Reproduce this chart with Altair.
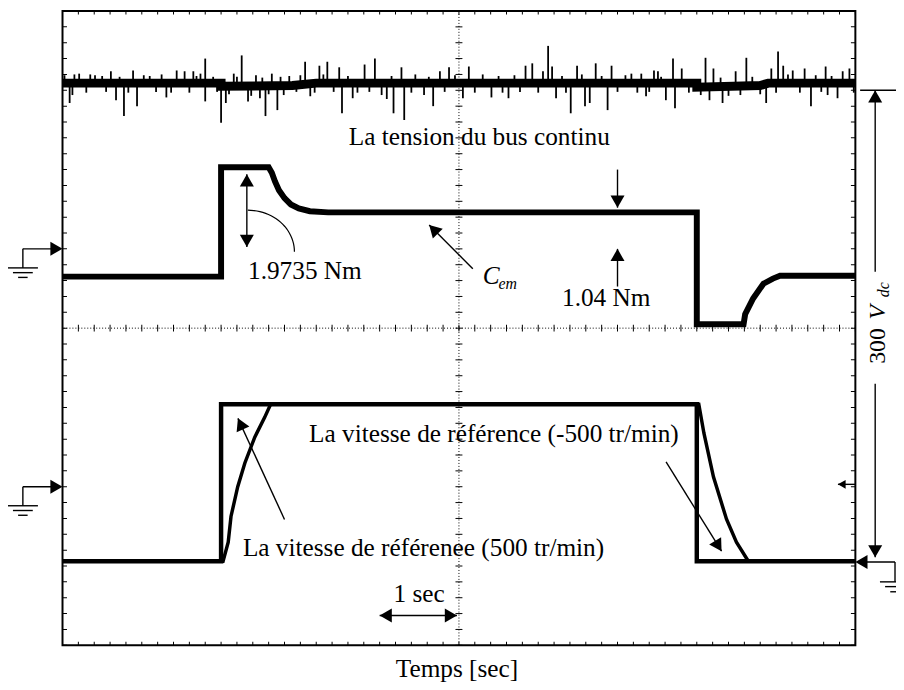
import math
import numpy as np
import pandas as pd
import altair as alt

# ---------------- data (time = horizontal divisions, 1 div = 1 s; amplitude in screen divisions) -------------
bus_t = [0.0, 2.0, 2.0, 2.9, 3.2, 8.0, 8.0, 8.8, 8.9, 10.0]
bus_v = [7.09, 7.09, 7.05, 7.06, 7.09, 7.09, 7.04, 7.06, 7.09, 7.09]

spike_t = [0.025, 0.09, 0.125, 0.21, 0.41, 0.61, 0.675, 0.775, 0.89, 0.94,
           1.025, 1.31, 1.44, 1.54, 1.65, 1.74, 1.80, 1.80, 2.0, 2.06,
           2.16, 2.26, 2.34, 2.44, 2.49, 2.56, 2.64, 2.71, 2.79, 2.86,
           3.06, 3.125, 3.24, 3.34, 3.49, 3.525, 3.66, 3.81, 3.94, 4.025,
           4.09, 4.175, 4.275, 4.31, 4.56, 4.675, 4.76, 4.875, 5.05, 5.125,
           5.41, 5.625, 5.84, 5.925, 6.06, 6.125, 6.175, 6.225, 6.41, 6.49,
           6.59, 6.65,
           6.725, 6.875, 6.925, 7.175, 7.30, 7.36, 7.46, 7.51, 7.61, 7.70,
           7.725, 7.81, 8.11, 8.16, 8.21, 8.325, 8.49, 8.55, 8.625, 8.875,
           8.94, 9.025, 9.09, 9.21, 9.36, 9.44, 9.625, 9.65, 9.775, 9.84,
           9.925]
spike_v = [7.19, 6.84, 6.94, 7.21, 7.19, 7.24, 6.875, 6.675, 7.25, 6.80,
           7.19, 6.91, 7.25, 7.24, 7.24, 7.21, 7.40, 6.86, 6.59, 6.84,
           7.21, 7.44, 6.86, 7.19, 6.90, 6.675, 7.21, 6.75, 6.94, 7.18,
           7.36, 6.925, 7.31, 7.36, 7.29, 6.71, 6.90, 7.325, 7.40, 6.94,
           6.89, 6.71, 7.29, 6.625, 6.94, 6.80, 7.24, 7.29, 6.90, 7.30,
           6.91, 6.90, 7.31, 7.34, 7.24, 7.56, 7.30, 6.90, 6.71, 7.31,
           6.80, 6.84,
           7.34, 6.75, 7.31, 7.21, 7.21, 6.925, 7.25, 7.24, 6.875, 7.40,
           6.775, 7.275, 7.41, 6.875, 7.275, 6.84, 7.24, 6.94, 7.41, 6.84,
           7.275, 7.49, 7.31, 7.25, 7.275, 6.80, 7.30, 6.94, 6.90, 7.24,
           7.275]

# small fuzz excursions around the bus band
fuzz_t = [0.15, 0.3, 0.35, 0.5, 0.55, 0.72, 0.83, 1.1, 1.18, 1.25, 1.37, 1.6, 1.69, 1.9, 1.95,
          2.1, 2.2, 2.38, 2.52, 2.6, 2.75, 2.95, 3.0, 3.18, 3.29, 3.42, 3.6, 3.72, 3.87, 4.15,
          4.4, 4.45, 4.62, 4.82, 4.95, 5.2, 5.3, 5.5, 5.55, 5.7, 5.77, 6.0, 6.3, 6.35, 6.55,
          6.8, 7.0, 7.1, 7.25, 7.4, 7.55, 7.9, 8.05, 8.3, 8.4, 8.7, 8.8, 9.0, 9.15, 9.3, 9.5, 9.57, 9.7, 9.98]
fuzz_v = [7.2, 6.97, 7.2, 7.18, 6.98, 7.17, 6.97, 7.18, 6.98, 7.2, 6.97, 6.97, 7.18, 7.17, 6.98,
          6.95, 7.17, 6.93, 7.16, 6.95, 7.17, 6.98, 7.19, 6.97, 7.2, 6.98, 7.18, 6.97, 6.98, 7.18,
          6.97, 7.2, 7.17, 6.98, 7.19, 6.97, 7.2, 7.18, 6.97, 7.19, 6.98, 6.97, 7.18, 6.97, 7.2,
          7.18, 6.98, 7.19, 6.97, 6.98, 7.17, 6.97, 6.94, 7.16, 6.93, 7.17, 6.95, 6.97, 7.2, 6.97, 7.19, 6.98, 7.18, 6.97]

torque_t = [0.0, 2.0, 2.0, 2.6, 2.64, 2.68, 2.73, 2.80, 2.88, 2.98, 3.12, 3.35,
            8.0, 8.0, 8.59, 8.61, 8.71, 8.84, 8.96, 9.05, 10.0]
torque_v = [4.65, 4.65, 6.03, 6.03, 5.96, 5.85, 5.74, 5.64, 5.56, 5.51, 5.475, 5.46,
            5.46, 4.05, 4.05, 4.175, 4.375, 4.56, 4.625, 4.66, 4.66]

speed_ref_t = [0.0, 2.0, 2.0, 8.0, 8.0, 10.0]
speed_ref_v = [1.06, 1.06, 3.04, 3.04, 1.06, 1.06]

speed_t = [0.0, 2.025, 2.09, 2.125, 2.21, 2.30, 2.425, 2.55, 2.625,
           8.025, 8.09, 8.21, 8.375, 8.5, 8.65, 10.0]
speed_v = [1.06, 1.06, 1.30, 1.625, 2.0, 2.30, 2.625, 2.875, 3.04,
           3.04, 2.675, 2.125, 1.59, 1.30, 1.06, 1.06]

# ---------------- scales ----------------
XS = alt.Scale(domain=[0, 10], nice=False, zero=False)
YS = alt.Scale(domain=[0, 8], nice=False, zero=False)
FONT = "Liberation Serif, Times New Roman, DejaVu Serif, serif"
FS = 25.5


def X(f="x"):
    return alt.X(f"{f}:Q", scale=XS, axis=None)


def Y(f="y"):
    return alt.Y(f"{f}:Q", scale=YS, axis=None)


def series(t, v):
    return pd.DataFrame({"x": t, "y": v, "i": range(len(t))})


def trace(t, v, width):
    return alt.Chart(series(t, v)).mark_line(color="black", strokeWidth=width,
                                              strokeJoin="miter", clip=True).encode(
        x=X(), y=Y(), order=alt.Order("i:Q"))


# ---------------- grid ----------------
grid_df = pd.DataFrame({"x": [0.0], "y": [0.0]})
grid = alt.Chart(grid_df).mark_point(opacity=0).encode(
    x=alt.X("x:Q", scale=XS,
            axis=alt.Axis(values=list(range(11)), grid=True, gridDash=[1.5, 14.5],
                          gridColor="black", gridWidth=1.3, gridOpacity=1,
                          labels=False, ticks=False, domain=False, title=None)),
    y=alt.Y("y:Q", scale=YS,
            axis=alt.Axis(values=list(range(9)), grid=True, gridDash=[1.5, 14.5],
                          gridColor="black", gridWidth=1.3, gridOpacity=1,
                          labels=False, ticks=False, domain=False, title=None)),
)

center_df = pd.DataFrame({"x": [5.0], "y": [4.0]})
center_v = alt.Chart(center_df).mark_rule(color="black", strokeDash=[1, 2], strokeWidth=1).encode(x=X())
center_h = alt.Chart(center_df).mark_rule(color="black", strokeDash=[1, 2], strokeWidth=1).encode(y=Y())

steps_x = np.round(np.arange(0, 10.001, 0.2), 2)
steps_y = np.round(np.arange(0, 8.001, 0.2), 2)
tick_v_df = pd.DataFrame([(x, y) for x in steps_x for y in (0.0, 8.0)], columns=["x", "y"])
tick_vc_df = pd.DataFrame([(x, 4.0) for x in steps_x], columns=["x", "y"])
tick_h_df = pd.DataFrame([(x, y) for y in steps_y for x in (0.0, 10.0)], columns=["x", "y"])
tick_hc_df = pd.DataFrame([(5.0, y) for y in steps_y], columns=["x", "y"])

ticks = (
    alt.Chart(tick_v_df).mark_tick(orient="vertical", size=7, thickness=1, color="black", clip=True, opacity=1).encode(x=X(), y=Y())
    + alt.Chart(tick_vc_df).mark_tick(orient="vertical", size=7, thickness=1, color="black", opacity=1).encode(x=X(), y=Y())
    + alt.Chart(tick_h_df).mark_tick(orient="horizontal", size=9, thickness=1, color="black", clip=True, opacity=1).encode(x=X(), y=Y())
    + alt.Chart(tick_hc_df).mark_tick(orient="horizontal", size=7, thickness=1, color="black", opacity=1).encode(x=X(), y=Y())
)

# ---------------- traces ----------------
bus = trace(bus_t, bus_v, 9)
spikes = alt.Chart(pd.DataFrame({"x": spike_t + fuzz_t, "y": [7.07] * (len(spike_t) + len(fuzz_t)),
                                 "y2": spike_v + fuzz_v})).mark_rule(
    color="black", strokeWidth=1.8).encode(x=X(), y=Y(), y2="y2:Q")
torque = trace(torque_t, torque_v, 6)
speed_ref = trace(speed_ref_t, speed_ref_v, 4.5)
speed = trace(speed_t, speed_v, 3.5)

# ---------------- annotations ----------------
segs = [
    (2.325, 5.94, 2.325, 5.025),     # 1.9735 Nm double arrow
    (7.0, 6.0, 7.0, 5.52),           # 1.04 Nm arrow down
    (7.0, 4.525, 7.0, 5.0),          # 1.04 Nm arrow up
    (5.175, 4.75, 4.625, 5.30),      # C_em arrow
    (2.8, 1.5875, 2.2125, 2.8625),   # ref 500 arrow
    (7.6125, 2.3125, 8.3125, 1.1875),  # ref -500 arrow
    (4.0, 0.375, 4.975, 0.375),      # 1 sec
    (10.25, 7.0, 10.25, 4.71),       # 300 Vdc upper
    (10.25, 3.3, 10.25, 1.11),       # 300 Vdc lower
    (10.06, 7.0, 10.6, 7.0),         # top reference line
    (9.78, 2.03, 10.0, 2.03),        # small arrow right edge
    (-0.5, 5.0, -0.1, 5.0), (-0.5, 5.0, -0.5, 4.76),
    (-0.69, 4.76, -0.31, 4.76), (-0.625, 4.70, -0.375, 4.70), (-0.56, 4.64, -0.44, 4.64),
    (-0.5, 2.0, -0.1, 2.0), (-0.5, 2.0, -0.5, 1.76),
    (-0.69, 1.76, -0.31, 1.76), (-0.625, 1.70, -0.375, 1.70), (-0.56, 1.64, -0.44, 1.64),
    (10.1, 1.05, 10.5, 1.05), (10.5, 1.05, 10.5, 0.80),
    (10.31, 0.80, 10.69, 0.80), (10.375, 0.74, 10.625, 0.74), (10.44, 0.675, 10.56, 0.675),
]
seg_df = pd.DataFrame(segs, columns=["x", "y", "x2", "y2"])
seg_layer = alt.Chart(seg_df).mark_rule(color="black", strokeWidth=1.4, clip=False).encode(
    x=X(), y=Y(), x2="x2:Q", y2="y2:Q")


def head(tx, ty, fx, fy, size=200):
    dx, dy = tx - fx, ty - fy
    L = math.hypot(dx, dy)
    ux, uy = dx / L, dy / L
    h = math.sqrt(size) * math.sqrt(3) / 4 / 80.0
    return {"x": tx - ux * h, "y": ty - uy * h,
            "angle": math.degrees(math.atan2(dx, dy)) % 360, "size": size}


heads = [
    head(2.325, 5.94, 2.325, 5.0), head(2.325, 5.025, 2.325, 6.0),
    head(7.0, 5.52, 7.0, 6.0), head(7.0, 5.0, 7.0, 4.5),
    head(4.625, 5.30, 5.175, 4.75),
    head(2.2125, 2.8625, 2.8, 1.5875),
    head(8.3125, 1.1875, 7.6125, 2.3125),
    head(4.0, 0.375, 5.0, 0.375), head(4.975, 0.375, 4.0, 0.375),
    head(10.25, 7.0, 10.25, 4.0), head(10.25, 1.11, 10.25, 3.0),
    head(9.78, 2.03, 10.0, 2.03, 80),
    head(0.0, 5.0, -1.0, 5.0), head(0.0, 2.0, -1.0, 2.0),
    head(10.0, 1.05, 11.0, 1.05),
]
head_layer = alt.Chart(pd.DataFrame(heads)).mark_point(
    shape="triangle-up", filled=True, color="black", opacity=1, clip=False).encode(
    x=X(), y=Y(), angle=alt.Angle("angle:Q", scale=None), size=alt.Size("size:Q", scale=None))

theta = np.linspace(0, math.pi / 2, 25)
arc_df = pd.DataFrame({"x": 2.3375 + 0.5875 * np.sin(theta),
                       "y": 4.9625 + 0.525 * np.cos(theta),
                       "i": range(len(theta))})
arc = alt.Chart(arc_df).mark_line(color="black", strokeWidth=1.2).encode(
    x=X(), y=Y(), order=alt.Order("i:Q"))

labels = pd.DataFrame([
    ("La tension du bus continu", 3.61, 6.31),
    ("1.9735 Nm", 2.34, 4.625),
    ("1.04 Nm", 6.30, 4.275),
    ("La vitesse de référence (-500 tr/min)", 3.11, 2.56),
    ("La vitesse de référenee (500 tr/min)", 2.275, 1.125),
    ("1 sec", 4.175, 0.55),
], columns=["text", "x", "y"])
label_layer = alt.Chart(labels).mark_text(font=FONT, fontSize=FS, align="left",
                                          baseline="alphabetic", color="black").encode(
    x=X(), y=Y(), text="text:N")

title_df = pd.DataFrame([("Temps [sec]", 4.975, -0.40)], columns=["text", "x", "y"])
title_layer = alt.Chart(title_df).mark_text(font=FONT, fontSize=FS, align="center",
                                            baseline="alphabetic", color="black").encode(
    x=X(), y=Y(), text="text:N")

cem = (
    alt.Chart(pd.DataFrame([("C", 5.30, 4.56)], columns=["text", "x", "y"])).mark_text(
        font=FONT, fontSize=FS, fontStyle="italic", align="left", baseline="alphabetic").encode(
        x=X(), y=Y(), text="text:N")
    + alt.Chart(pd.DataFrame([("em", 5.50, 4.50)], columns=["text", "x", "y"])).mark_text(
        font=FONT, fontSize=16, fontStyle="italic", align="left", baseline="alphabetic").encode(
        x=X(), y=Y(), text="text:N")
)

vdc = (
    alt.Chart(pd.DataFrame([("300", 10.375, 3.55)], columns=["text", "x", "y"])).mark_text(
        font=FONT, fontSize=24, angle=270, align="left", baseline="alphabetic").encode(
        x=X(), y=Y(), text="text:N")
    + alt.Chart(pd.DataFrame([("V", 10.375, 4.11)], columns=["text", "x", "y"])).mark_text(
        font=FONT, fontSize=24, fontStyle="italic", angle=270, align="left", baseline="alphabetic").encode(
        x=X(), y=Y(), text="text:N")
    + alt.Chart(pd.DataFrame([("dc", 10.43, 4.39)], columns=["text", "x", "y"])).mark_text(
        font=FONT, fontSize=16, fontStyle="italic", angle=270, align="left", baseline="alphabetic").encode(
        x=X(), y=Y(), text="text:N")
)

chart = alt.layer(
    grid, center_v, center_h, ticks,
    bus, spikes, torque, speed_ref, speed,
    seg_layer, head_layer, arc, label_layer, title_layer, cem, vdc,
).properties(
    width=800, height=640,
    autosize=alt.AutoSizeParams(type="none"),
    padding={"left": 55, "top": 0, "right": 41, "bottom": 34},
    background="white",
).configure_view(stroke="black", strokeWidth=2)

chart.save("out.html", embed_options={"renderer": "svg", "actions": False})
